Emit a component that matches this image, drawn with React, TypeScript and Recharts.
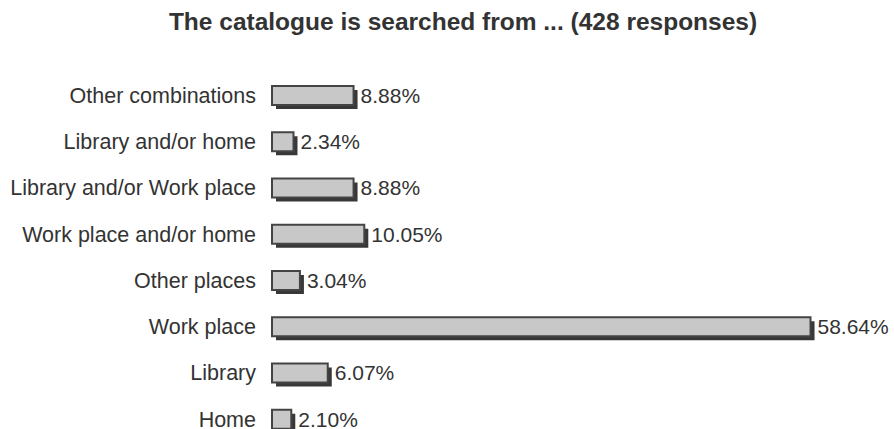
import * as React from "react";
import { BarChart, Bar, XAxis, YAxis, LabelList } from "recharts";

const CATEGORIES = [
  "Other combinations",
  "Library and/or home",
  "Library and/or Work place",
  "Work place and/or home",
  "Other places",
  "Work place",
  "Library",
  "Home",
];

const PERCENTS = [8.88, 2.34, 8.88, 10.05, 3.04, 58.64, 6.07, 2.1];

const TITLE = "The catalogue is searched from ... (428 responses)";

const data = CATEGORIES.map((name, i) => ({ name, value: PERCENTS[i] }));

const FONT = "'Liberation Sans', Arial, sans-serif";
const TEXT = "#333333";

// front bar with a dark drop shadow offset to the bottom right
const ShadowBar = (props: any) => {
  const { x, y, width, height } = props;
  if (width == null || height == null) return null;
  return (
    <g>
      <rect x={x + 4} y={y + 4} width={width} height={height} fill="#383838" />
      <rect
        x={x}
        y={y}
        width={width}
        height={height}
        fill="#c8c8c8"
        stroke="#444444"
        strokeWidth={2}
      />
    </g>
  );
};

export default function App() {
  return (
    <div
      style={{
        position: "absolute",
        top: 0,
        left: 0,
        width: 894,
        height: 429,
        overflow: "hidden",
        background: "#ffffff",
        fontFamily: FONT,
      }}
    >
      <div
        style={{
          position: "absolute",
          top: 8,
          left: 16,
          width: 894,
          textAlign: "center",
          fontSize: 24.5,
          lineHeight: "28px",
          fontWeight: "bold",
          color: TEXT,
        }}
      >
        {TITLE}
      </div>
      <BarChart
        width={894}
        height={442}
        data={data}
        layout="vertical"
        margin={{ top: 72, right: 71, bottom: 0, left: 0 }}
        barCategoryGap={0}
      >
        <XAxis type="number" domain={[0, 60]} hide />
        <YAxis
          type="category"
          dataKey="name"
          width={272}
          axisLine={false}
          tickLine={false}
          tickSize={0}
          tickMargin={16}
          interval={0}
          tick={{ fontSize: 21.5, fill: TEXT, fontFamily: FONT }}
        />
        <Bar
          dataKey="value"
          barSize={19}
          shape={<ShadowBar />}
          isAnimationActive={false}
        >
          <LabelList
            dataKey="value"
            position="right"
            offset={7}
            formatter={(v: any) => `${Number(v).toFixed(2)}%`}
            style={{ fontSize: 21, fill: TEXT, fontFamily: FONT }}
          />
        </Bar>
      </BarChart>
    </div>
  );
}
